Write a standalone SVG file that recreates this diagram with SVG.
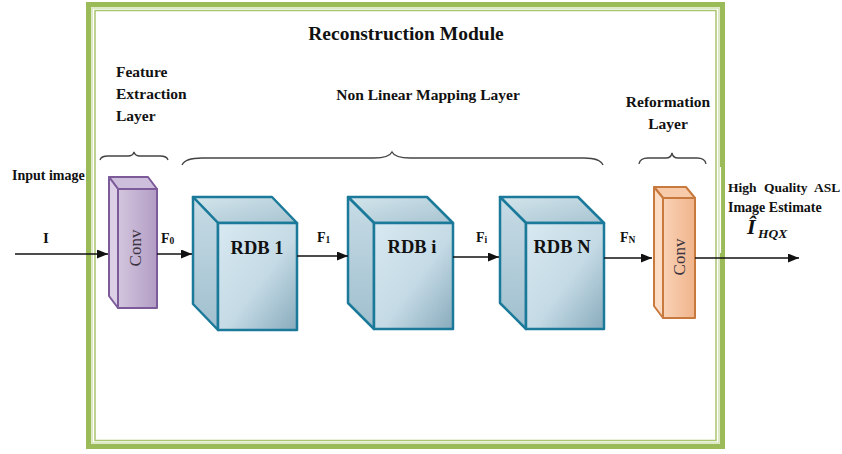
<svg xmlns="http://www.w3.org/2000/svg" width="842" height="454" viewBox="0 0 842 454">
<defs>
<style>
.t{font-family:"Liberation Serif","Times New Roman",serif;font-weight:bold;fill:#111}
.conv{font-family:"Liberation Serif","Times New Roman",serif;font-size:17px;fill:#3a3340}
.edge{stroke:#111;stroke-width:1.5;fill:none}
.brace{stroke:#444;stroke-width:1.3;fill:none}
.cube{stroke:#1b7a9a;stroke-width:2.5;stroke-linejoin:round}
.pc{stroke:#7d5b9b;stroke-width:2;stroke-linejoin:round}
.oc{stroke:#c87a3e;stroke-width:2;stroke-linejoin:round}
</style>
<marker id="ah" markerUnits="userSpaceOnUse" markerWidth="12" markerHeight="10" refX="11" refY="4.5" orient="auto">
<path d="M0,0 L11,4.5 L0,9 z" fill="#111"/>
</marker>
<linearGradient id="front" x1="0" y1="0" x2="1" y2="1">
<stop offset="0" stop-color="#d8e9f1"/>
<stop offset="0.55" stop-color="#c4dae5"/>
<stop offset="1" stop-color="#88abbc"/>
</linearGradient>
<linearGradient id="side" x1="0" y1="0" x2="0" y2="1">
<stop offset="0" stop-color="#c7dce6"/>
<stop offset="1" stop-color="#a0bfce"/>
</linearGradient>
<linearGradient id="top" x1="0" y1="0" x2="1" y2="1">
<stop offset="0" stop-color="#d3e5ec"/>
<stop offset="1" stop-color="#a8c4d1"/>
</linearGradient>
<linearGradient id="pf" x1="0" y1="0" x2="1" y2="0">
<stop offset="0" stop-color="#d3c5de"/>
<stop offset="1" stop-color="#b29dc4"/>
</linearGradient>
<linearGradient id="of" x1="0" y1="0" x2="1" y2="0">
<stop offset="0" stop-color="#f9d2b6"/>
<stop offset="1" stop-color="#f0b48b"/>
</linearGradient>
</defs>

<g id="frame">
<rect x="88.5" y="4.5" width="634" height="442" fill="none" stroke="#9bbb59" stroke-width="5"/>
<rect x="92" y="8" width="627" height="435" fill="none" stroke="#d3e2b6" stroke-width="1.5"/>
<rect x="95" y="10.5" width="621" height="430" fill="none" stroke="#a9c56f" stroke-width="1.5"/>
<line x1="720.5" y1="167" x2="720.5" y2="253" stroke="#ffffff" stroke-width="1.2"/>
</g>

<g id="labels">
<text class="t" x="406" y="40" font-size="19.5" text-anchor="middle">Reconstruction Module</text>
<text class="t" x="116" y="77" font-size="15.5">Feature</text>
<text class="t" x="116" y="99" font-size="15.5">Extraction</text>
<text class="t" x="116" y="121" font-size="15.5">Layer</text>
<text class="t" x="428" y="100" font-size="15.5" text-anchor="middle">Non Linear Mapping Layer</text>
<text class="t" x="668" y="107" font-size="15.5" text-anchor="middle">Reformation</text>
<text class="t" x="668" y="129" font-size="15.5" text-anchor="middle">Layer</text>
<text class="t" x="12" y="180" font-size="14">Input image</text>
<text class="t" x="43" y="243" font-size="15">I</text>
<text class="t" x="728" y="192" font-size="13.5" word-spacing="4">High Quality ASL</text>
<text class="t" x="728" y="212" font-size="14">Image Estimate</text>
<text class="t" x="747" y="234" font-size="22" font-style="italic">Î</text>
<text class="t" x="758" y="238" font-size="13.5" font-style="italic">HQX</text>
</g>

<g id="braces">
<path class="brace" d="M100,160 Q101,156 108,156 L128,156 Q133,156 134,152 Q135,156 140,156 L160,156 Q167,156 168,160"/>
<path class="brace" d="M182,165 Q185,158 202,158 L374,158 Q389,158 392,152 Q395,158 410,158 L584,158 Q600,158 603,165"/>
<path class="brace" d="M639,164 Q640,158 648,158 L666,158 Q671,158 672,153 Q673,158 678,158 L697,158 Q705,158 706,164"/>
</g>

<g id="conv1">
<polygon class="pc" points="109,177 148,177 157,189 118,189" fill="#cdbedb"/>
<polygon class="pc" points="109,177 118,189 118,308 109,296" fill="#dcd0e6"/>
<rect class="pc" x="118" y="189" width="39" height="119" fill="url(#pf)"/>
<text class="conv" transform="translate(141,248) rotate(-90)" text-anchor="middle">Conv</text>
</g>

<g id="rdb1">
<polygon class="cube" points="193,197 272,197 297,223 218,223" fill="url(#top)"/>
<polygon class="cube" points="193,197 218,223 218,330 193,304" fill="url(#side)"/>
<rect class="cube" x="218" y="223" width="79" height="107" fill="url(#front)"/>
<text class="t" x="257" y="254" font-size="18.5" text-anchor="middle">RDB 1</text>
</g>

<g id="rdbi">
<polygon class="cube" points="348,197 427,197 453,223 374,223" fill="url(#top)"/>
<polygon class="cube" points="348,197 374,223 374,329 348,303" fill="url(#side)"/>
<rect class="cube" x="374" y="223" width="79" height="106" fill="url(#front)"/>
<text class="t" x="412" y="253" font-size="18.5" text-anchor="middle">RDB i</text>
</g>

<g id="rdbN">
<polygon class="cube" points="500,197 578,197 604,223 526,223" fill="url(#top)"/>
<polygon class="cube" points="500,197 526,223 526,329 500,303" fill="url(#side)"/>
<rect class="cube" x="526" y="223" width="78" height="106" fill="url(#front)"/>
<text class="t" x="562" y="253" font-size="18.5" text-anchor="middle">RDB N</text>
</g>

<g id="conv2">
<polygon class="oc" points="654,187 686,187 695,198 663,198" fill="#f7caa9"/>
<polygon class="oc" points="654,187 663,198 663,318 654,306" fill="#fbdcc4"/>
<rect class="oc" x="663" y="198" width="32" height="120" fill="url(#of)"/>
<text class="conv" transform="translate(685,257) rotate(-90)" text-anchor="middle">Conv</text>
</g>

<g id="connectors">
<line class="edge" x1="15" y1="254" x2="108" y2="254" marker-end="url(#ah)"/>
<line class="edge" x1="157" y1="254" x2="192" y2="254" marker-end="url(#ah)"/>
<line class="edge" x1="297" y1="256" x2="348" y2="256" marker-end="url(#ah)"/>
<line class="edge" x1="453" y1="257" x2="499" y2="257" marker-end="url(#ah)"/>
<line class="edge" x1="604" y1="258" x2="652" y2="258" marker-end="url(#ah)"/>
<line class="edge" x1="695" y1="258" x2="799" y2="258" marker-end="url(#ah)"/>
</g>

<g id="edge-labels">
<text class="t" x="161" y="243" font-size="14">F<tspan font-size="9.5" dy="1">0</tspan></text>
<text class="t" x="317" y="242" font-size="14">F<tspan font-size="9.5" dy="1">1</tspan></text>
<text class="t" x="476" y="242" font-size="14">F<tspan font-size="9.5" dy="1">i</tspan></text>
<text class="t" x="620" y="242" font-size="14">F<tspan font-size="9.5" dy="1">N</tspan></text>
</g>
</svg>
